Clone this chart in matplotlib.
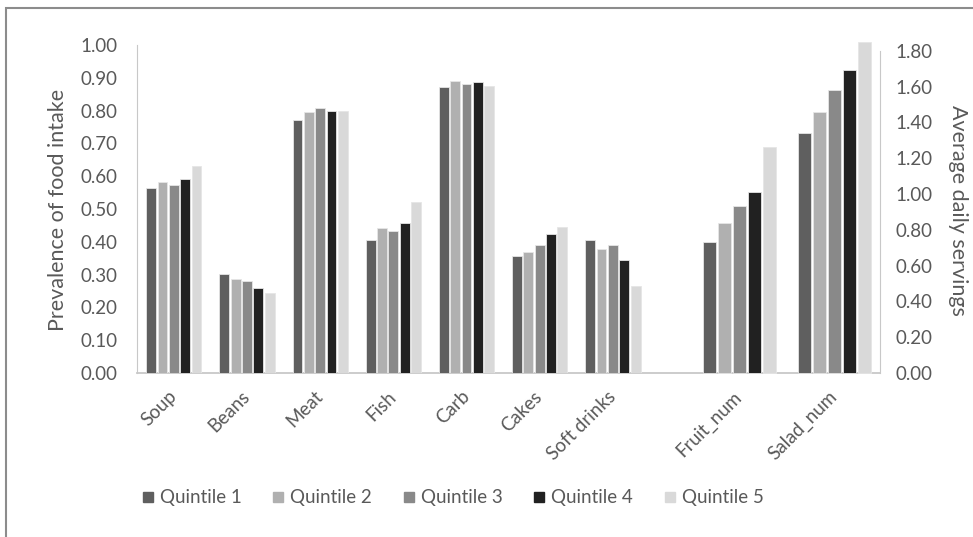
import numpy as np
import matplotlib.pyplot as plt
from matplotlib.patches import Rectangle
from matplotlib.lines import Line2D

plt.rcParams['font.family'] = ['Lato', 'DejaVu Sans']

# food items on the left axis (prevalence) and the right axis (servings)
foods = ["Soup", "Beans", "Meat", "Fish", "Carb", "Cakes", "Soft drinks"]
servings = ["Fruit_num", "Salad_num"]
quintiles = ["Quintile 1", "Quintile 2", "Quintile 3", "Quintile 4", "Quintile 5"]

prevalence = [
    [0.563, 0.302, 0.771, 0.405, 0.873, 0.358, 0.405],
    [0.583, 0.288, 0.796, 0.441, 0.890, 0.368, 0.377],
    [0.573, 0.281, 0.807, 0.434, 0.880, 0.390, 0.390],
    [0.591, 0.258, 0.800, 0.456, 0.888, 0.424, 0.344],
    [0.632, 0.244, 0.799, 0.522, 0.876, 0.444, 0.266],
]
daily = [
    [0.73, 1.34],
    [0.84, 1.46],
    [0.93, 1.58],
    [1.01, 1.69],
    [1.26, 1.85],
]

colors = ["#5f5f5f", "#b0b0b0", "#898989", "#212121", "#d9d9d9"]
text_col = "#595959"
axis_col = "#c8c8c8"

# category slots along the x axis
x_left = np.arange(len(foods))
x_right = np.array([7.725, 9.03])

fig = plt.figure(figsize=(9.73, 5.37), dpi=100)
ax = fig.add_axes([137 / 973, 1 - 373 / 537, 743 / 973, 328 / 537])
ax2 = ax.twinx()

slot_l, bw_l = 0.155, 0.135
slot_r, bw_r = 0.205, 0.175
for i in range(5):
    off = i - 2
    ax.bar(x_left + off * slot_l, prevalence[i], width=bw_l, color=colors[i],
           edgecolor="#e6e6e6", linewidth=0.6, zorder=3)
    ax2.bar(x_right + off * slot_r, daily[i], width=bw_r, color=colors[i],
            edgecolor="#e6e6e6", linewidth=0.6, zorder=3, clip_on=False)

ax.set_xlim(-0.503, 9.65)
ax.set_ylim(0, 1.0)
ax2.set_ylim(0, 1.832)
ax.set_yticks(np.arange(0, 1.01, 0.1))
ax.set_yticklabels([f"{v:.2f}" for v in np.arange(0, 1.01, 0.1)])
ax2.set_yticks(np.arange(0, 1.81, 0.2))
ax2.set_yticklabels([f"{v:.2f}" for v in np.arange(0, 1.81, 0.2)])

ax.set_xticks(np.concatenate([x_left, x_right]))
ax.set_xticklabels(foods + servings, rotation=45, ha="right",
                   rotation_mode="anchor", va="center")

for a in (ax, ax2):
    for s in a.spines.values():
        s.set_visible(False)
    a.tick_params(length=0, colors=text_col, labelsize=13.5)
ax.tick_params(axis="y", pad=14)
ax.tick_params(axis="x", pad=15)
ax2.tick_params(axis="y", pad=11)

ax.spines["left"].set_visible(True)
ax.spines["left"].set_color(axis_col)
ax.spines["bottom"].set_visible(True)
ax.spines["bottom"].set_color(axis_col)
ax.spines["bottom"].set_linewidth(1.3)
ax2.spines["right"].set_visible(True)
ax2.spines["right"].set_color(axis_col)
ax2.spines["right"].set_bounds(0, 1.8)

fig.text(58 / 973, 1 - 210 / 537, "Prevalence of food intake", rotation=90,
         ha="center", va="center", color=text_col, fontsize=15.5)
fig.text(958 / 973, 1 - 210 / 537, "Average daily servings", rotation=270,
         ha="center", va="center", color=text_col, fontsize=15.5)

handles = [Line2D([], [], marker="s", linestyle="none", markersize=7.5,
                  markerfacecolor=c, markeredgecolor=c) for c in colors]
fig.legend(handles, quintiles, loc="center", bbox_to_anchor=(452 / 973, 1 - 498 / 537),
           ncol=5, frameon=False, fontsize=13.5, handletextpad=0.25,
           columnspacing=1.55, labelcolor=text_col, handlelength=0.8)

# chart frame
fig.patches.append(Rectangle((5.5 / 973, -0.1), 1.2, 1.1 - 8.3 / 537,
                             transform=fig.transFigure, fill=False,
                             edgecolor="#8c8c8c", linewidth=1.5))

fig.savefig("out.png", dpi=100)
